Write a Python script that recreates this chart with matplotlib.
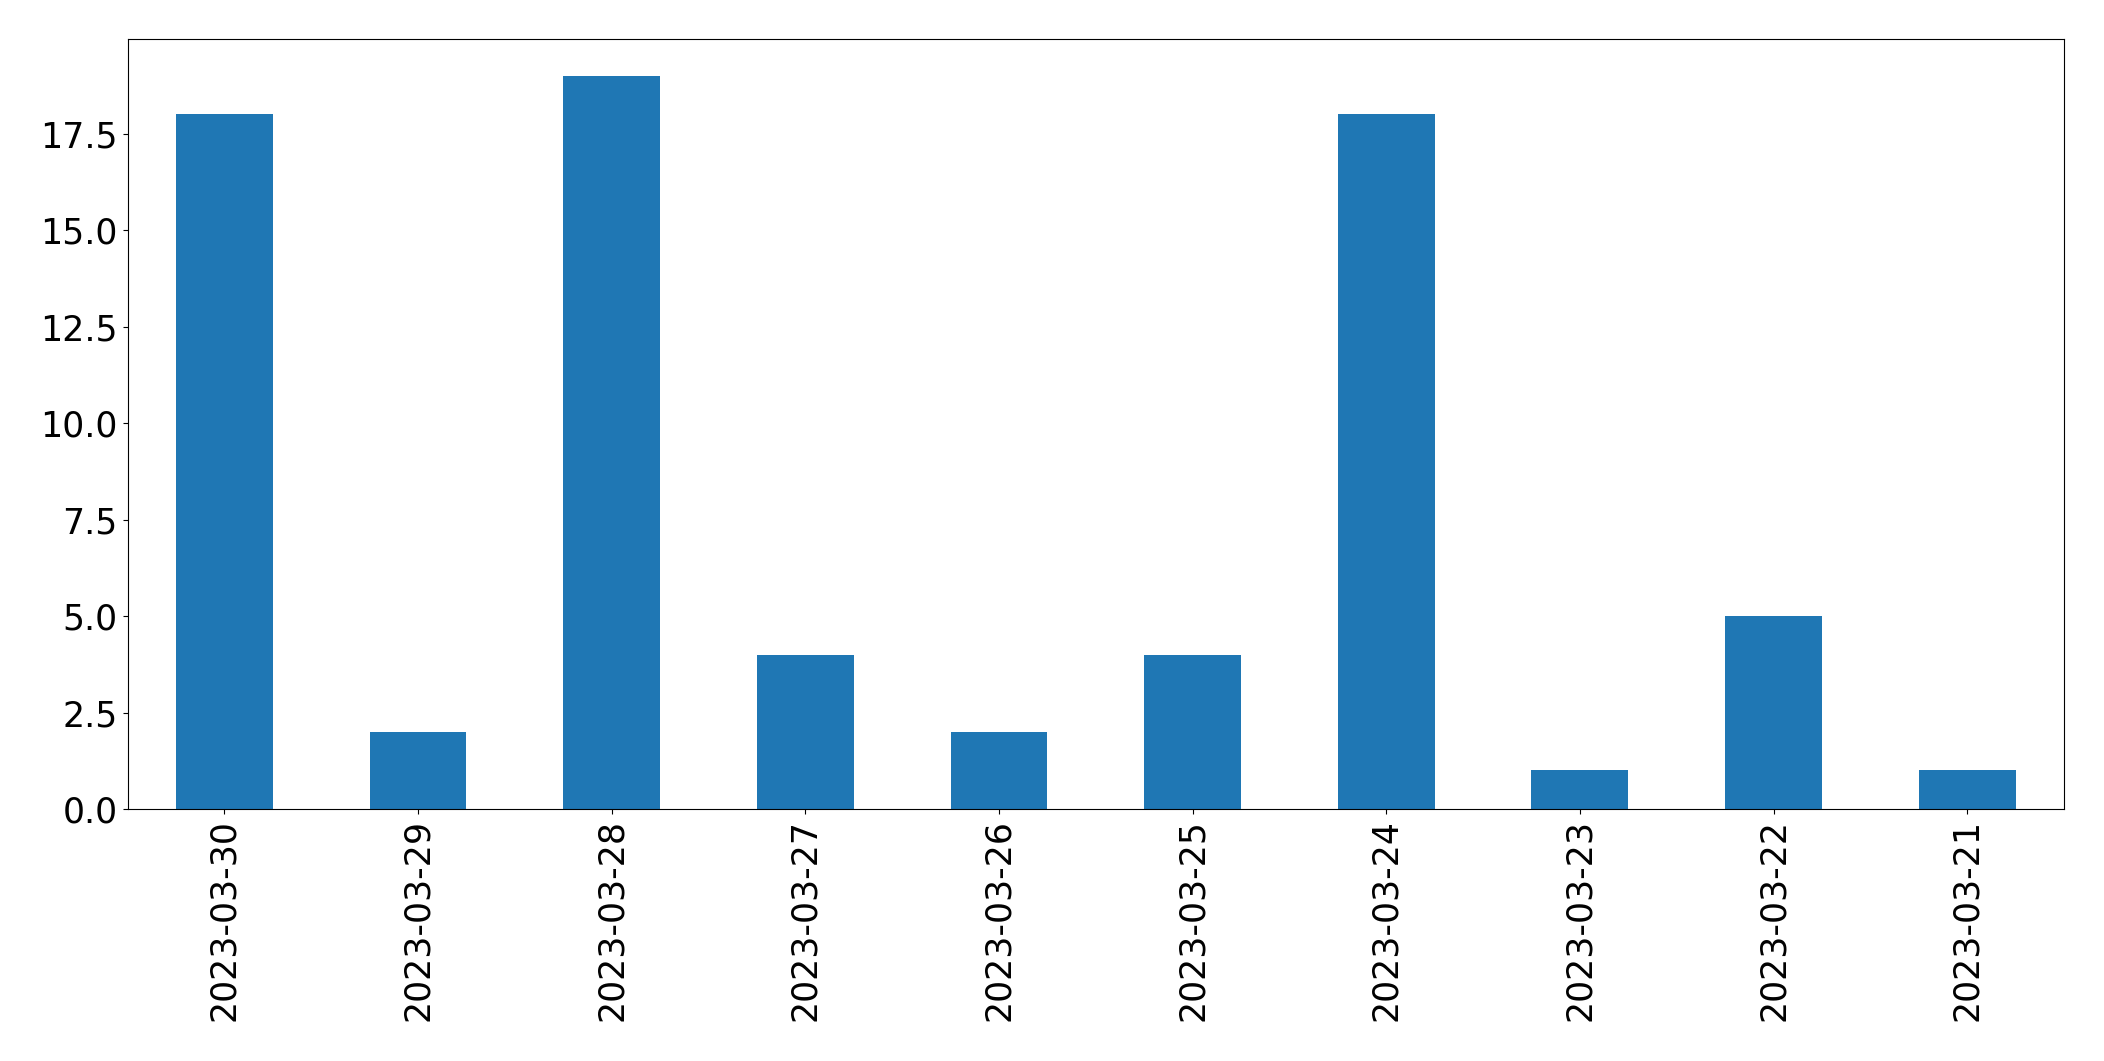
import matplotlib
matplotlib.use("Agg")
import matplotlib.pyplot as plt
import pandas as pd

dates = ["2023-03-30", "2023-03-29", "2023-03-28", "2023-03-27", "2023-03-26",
         "2023-03-25", "2023-03-24", "2023-03-23", "2023-03-22", "2023-03-21"]
counts = [18, 2, 19, 4, 2, 4, 18, 1, 5, 1]

series = pd.Series(counts, index=dates)

fig = plt.figure(figsize=(21.04, 10.61), dpi=100)
ax = fig.add_axes([0.0606, 0.2375, 0.9204, 0.7255])
series.plot(kind="bar", ax=ax, color="#1f77b4", width=0.5)
ax.tick_params(axis="both", labelsize=25)

plt.savefig("out.png", dpi=100)
